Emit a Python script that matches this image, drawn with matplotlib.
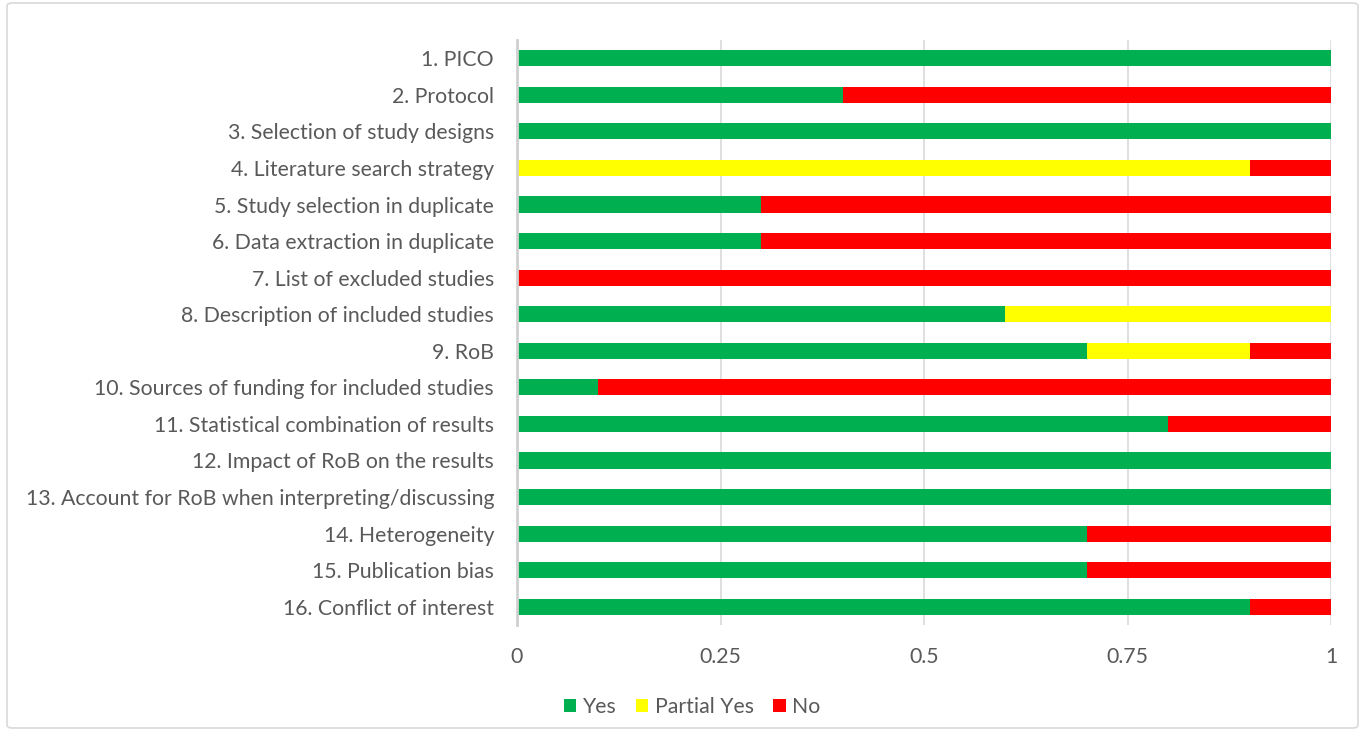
import matplotlib
matplotlib.use("Agg")
import matplotlib.pyplot as plt
from matplotlib.patches import FancyBboxPatch
import numpy as np

plt.rcParams['font.family'] = ['Lato', 'DejaVu Sans']

categories = [
    "1. PICO",
    "2. Protocol",
    "3. Selection of study designs",
    "4. Literature search strategy",
    "5. Study selection in duplicate",
    "6. Data extraction in duplicate",
    "7. List of excluded studies",
    "8. Description of included studies",
    "9. RoB",
    "10. Sources of funding for included studies",
    "11. Statistical combination of results",
    "12. Impact of RoB on the results",
    "13. Account for RoB when interpreting/discussing",
    "14. Heterogeneity",
    "15. Publication bias",
    "16. Conflict of interest",
]
yes_vals = [1.0, 0.4, 1.0, 0.0, 0.3, 0.3, 0.0, 0.6, 0.7, 0.1, 0.8, 1.0, 1.0, 0.7, 0.7, 0.9]
partial_vals = [0.0, 0.0, 0.0, 0.9, 0.0, 0.0, 0.0, 0.4, 0.2, 0.0, 0.0, 0.0, 0.0, 0.0, 0.0, 0.0]
no_vals = [0.0, 0.6, 0.0, 0.1, 0.7, 0.7, 1.0, 0.0, 0.1, 0.9, 0.2, 0.0, 0.0, 0.3, 0.3, 0.1]
tick_values = [0, 0.25, 0.5, 0.75, 1]
tick_labels = ["0", "0.25", "0.5", "0.75", "1"]
series_names = ["Yes", "Partial Yes", "No"]
series_colors = ["#00B050", "#FFFF00", "#FF0000"]

W, H = 1368, 738
fig = plt.figure(figsize=(W / 100, H / 100), dpi=100)

# rounded outer frame
frame = FancyBboxPatch((7 / W, 10 / H), (1358 - 7) / W, (735 - 10) / H,
                       boxstyle="round,pad=0,rounding_size=0.004",
                       transform=fig.transFigure, facecolor="none",
                       edgecolor="#D9D9D9", linewidth=1.2, zorder=-1)
fig.patches.append(frame)

ax = fig.add_axes([517 / W, 1 - 625 / H, (1331 - 517) / W, (625 - 40) / H])
ax.set_facecolor("none")

y = np.arange(len(categories))
bar_h = 0.44
left = np.zeros(len(categories))
for vals, name, col in zip([yes_vals, partial_vals, no_vals], series_names, series_colors):
    ax.barh(y, vals, left=left, height=bar_h, color=col, label=name, zorder=3)
    left = left + np.array(vals)

ax.set_ylim(len(categories) - 0.5, -0.5)
ax.set_xlim(0, 1)
ax.set_yticks(y)
ax.set_yticklabels(categories, fontsize=15.3, color="#595959")
ax.set_xticks(tick_values)
ax.set_xticklabels(tick_labels, fontsize=15.3, color="#595959")
ax.tick_params(axis="both", length=0)
ax.tick_params(axis="y", pad=16.5)
ax.tick_params(axis="x", pad=16)

ax.grid(axis="x", color="#D9D9D9", linewidth=1.2, zorder=0)
for s in ["top", "right", "bottom"]:
    ax.spines[s].set_visible(False)
ax.spines["left"].set_color("#D0D0D0")
ax.spines["left"].set_linewidth(2)
ax.spines["left"].set_zorder(4)

leg = fig.legend(loc="center", bbox_to_anchor=(692 / W, 1 - 707 / H), ncol=3,
                 frameon=False, fontsize=15.3, handlelength=0.6, handleheight=0.6,
                 handletextpad=0.3, columnspacing=0.9)
for t in leg.get_texts():
    t.set_color("#595959")

fig.savefig("out.png", dpi=100)
